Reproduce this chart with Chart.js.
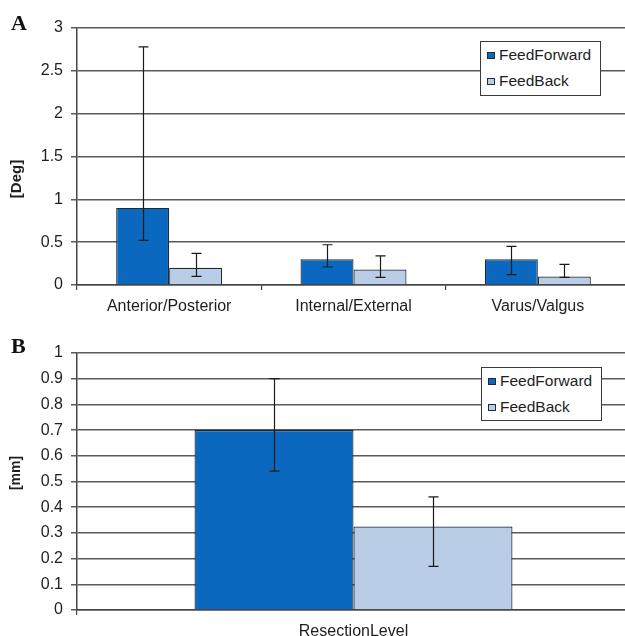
<!DOCTYPE html>
<html>
<head>
<meta charset="utf-8">
<script src="https://cdn.jsdelivr.net/npm/chart.js@4/dist/chart.umd.min.js"></script>
<style>
  html, body { margin: 0; padding: 0; background: #fff; overflow: hidden; width: 625px; height: 636px; }
  .panel { position: absolute; left: 0; width: 630px; height: 318px; }
  #panelA { top: 0; }
  #panelB { top: 318px; }
  canvas { display: block; }
  .letter { position: absolute; font: bold 22px "Liberation Serif", "Times New Roman", serif; line-height: 22px; color: #111; }
  .ytitle { position: absolute; font-family: "Liberation Sans", Arial, sans-serif; font-weight: bold; color: #1e1e1e;
            line-height: 1; white-space: nowrap; transform: translate(-50%, -50%) rotate(-90deg); }
  .legend { position: absolute; background: #fff; border: 1.5px solid #3a3a3a; box-sizing: border-box;
            font: 15.5px "Liberation Sans", Arial, sans-serif; color: #1e1e1e; }
  .lg-row { position: absolute; left: 6px; height: 18px; line-height: 18px; display: flex; align-items: center; white-space: nowrap; }
  .sw { width: 6px; height: 5px; border: 1px solid #1d2b3c; margin-right: 4px; }
</style>
</head>
<body>
<div class="panel" id="panelA"><canvas id="chartA" width="630" height="318"></canvas></div>
<div class="panel" id="panelB"><canvas id="chartB" width="630" height="318"></canvas></div>

<div class="letter" style="left:11px; top:12px;">A</div>
<div class="letter" style="left:11px; top:335px;">B</div>
<div class="ytitle" style="left:15px; top:179px; font-size:15px;">[Deg]</div>
<div class="ytitle" style="left:15px; top:473px; font-size:14px;">[mm]</div>
<div class="legend" id="legendA" style="left:480px; top:41px; width:121px; height:55px;"></div>
<div class="legend" id="legendB" style="left:481px; top:367px; width:121px; height:54px;"></div>

<script>
// Panel A: angular deviation per rotation axis
const anglesCategories = ['Anterior/Posterior', 'Internal/External', 'Varus/Valgus'];
const anglesFeedForward = [0.9, 0.3, 0.3];
const anglesFeedForwardHigh = [2.78, 0.47, 0.45];
const anglesFeedForwardLow = [0.52, 0.21, 0.12];
const anglesFeedBack = [0.2, 0.18, 0.1];
const anglesFeedBackHigh = [0.37, 0.34, 0.24];
const anglesFeedBackLow = [0.1, 0.09, 0.09];

// Panel B: resection level error
const resectionCategories = ['ResectionLevel'];
const resectionFeedForward = [0.7];
const resectionFeedForwardHigh = [0.9];
const resectionFeedForwardLow = [0.54];
const resectionFeedBack = [0.325];
const resectionFeedBackHigh = [0.44];
const resectionFeedBackLow = [0.17];

const seriesNames = ['FeedForward', 'FeedBack'];
const COLOR_FF = '#0a69bf';
const COLOR_FB = '#b9cde6';
const EDGE = '#1f2a36';
const FONT = '"Liberation Sans", Arial, sans-serif';

// Draws the whiskers from each dataset's low/high arrays
const errorBars = {
  id: 'errorBars',
  afterDatasetsDraw(chart) {
    const { ctx } = chart;
    const y = chart.scales.y;
    ctx.save();
    ctx.strokeStyle = '#1a1a1a';
    ctx.lineWidth = 1.2;
    chart.data.datasets.forEach((ds, i) => {
      const meta = chart.getDatasetMeta(i);
      meta.data.forEach((bar, j) => {
        const x = Math.round(bar.x) + 0.5;
        const yt = y.getPixelForValue(ds.errHigh[j]);
        const yb = y.getPixelForValue(ds.errLow[j]);
        ctx.beginPath();
        ctx.moveTo(x, yt); ctx.lineTo(x, yb);
        ctx.moveTo(x - 5, yt); ctx.lineTo(x + 5, yt);
        ctx.moveTo(x - 5, yb); ctx.lineTo(x + 5, yb);
        ctx.stroke();
      });
    });
    ctx.restore();
  }
};

function makeChart(canvasId, labels, ff, ffHigh, ffLow, fb, fbHigh, fbLow, yMax, yStep, topPad, xHeight) {
  return new Chart(document.getElementById(canvasId), {
    type: 'bar',
    data: {
      labels: labels,
      datasets: [
        { label: seriesNames[0], data: ff, errHigh: ffHigh, errLow: ffLow,
          backgroundColor: COLOR_FF, borderColor: EDGE, borderWidth: 1.2 },
        { label: seriesNames[1], data: fb, errHigh: fbHigh, errLow: fbLow,
          backgroundColor: COLOR_FB, borderColor: EDGE, borderWidth: 1.2 }
      ]
    },
    options: {
      responsive: false,
      animation: false,
      devicePixelRatio: 1,
      layout: { padding: { top: topPad, left: 0, right: 0, bottom: 0 } },
      datasets: { bar: { categoryPercentage: 0.575, barPercentage: 1.0 } },
      plugins: { legend: { display: false }, tooltip: { enabled: false } },
      scales: {
        x: {
          grid: { display: true, drawOnChartArea: false, drawTicks: true, tickLength: 5, color: '#444', lineWidth: 1.2 },
          border: { display: true, color: '#444', width: 1.5 },
          ticks: { color: '#1e1e1e', font: { family: FONT, size: 16 }, padding: 7, maxRotation: 0 },
          afterFit(scale) { scale.height = xHeight; }
        },
        y: {
          min: 0, max: yMax,
          grid: { color: '#5a5a5a', lineWidth: 1.5, drawTicks: true, tickLength: 6 },
          border: { display: true, color: '#444', width: 1.5 },
          ticks: {
            stepSize: yStep, color: '#1e1e1e', font: { family: FONT, size: 16 }, padding: 8,
            callback: (v) => String(Number(v.toFixed(2)))
          },
          afterFit(scale) { scale.width = 77; }
        }
      }
    },
    plugins: [errorBars]
  });
}

function buildLegend(el, chart) {
  chart.data.datasets.forEach((ds, i) => {
    const row = document.createElement('div');
    row.className = 'lg-row';
    row.style.top = (4 + i * 26) + 'px';
    const sw = document.createElement('span');
    sw.className = 'sw';
    sw.style.background = ds.backgroundColor;
    const tx = document.createElement('span');
    tx.textContent = ds.label;
    row.append(sw, tx);
    el.append(row);
  });
}

const chartA = makeChart('chartA', anglesCategories,
  anglesFeedForward, anglesFeedForwardHigh, anglesFeedForwardLow,
  anglesFeedBack, anglesFeedBackHigh, anglesFeedBackLow, 3, 0.5, 28, 33);
const chartB = makeChart('chartB', resectionCategories,
  resectionFeedForward, resectionFeedForwardHigh, resectionFeedForwardLow,
  resectionFeedBack, resectionFeedBackHigh, resectionFeedBackLow, 1, 0.1, 35, 26);

buildLegend(document.getElementById('legendA'), chartA);
buildLegend(document.getElementById('legendB'), chartB);
</script>
</body>
</html>
